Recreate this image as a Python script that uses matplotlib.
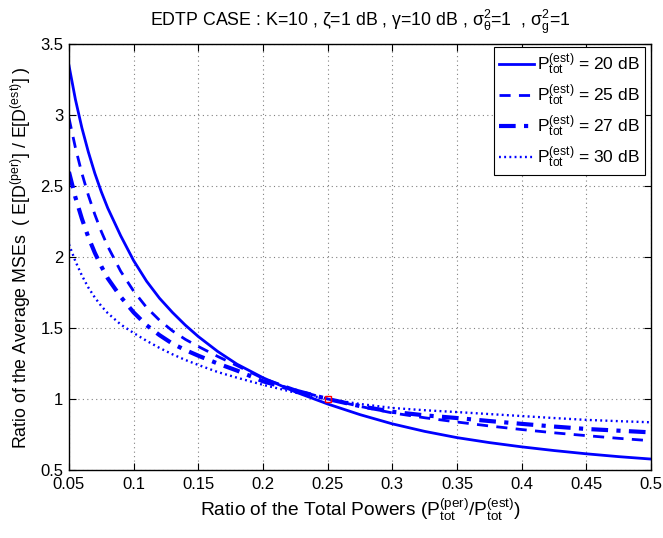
import matplotlib
matplotlib.use('Agg')
import matplotlib.pyplot as plt
import numpy as np

plt.rcParams['font.family'] = ['Liberation Sans', 'DejaVu Sans']
plt.rcParams['mathtext.fontset'] = 'custom'
plt.rcParams['mathtext.rm'] = 'Liberation Sans'
plt.rcParams['mathtext.it'] = 'Liberation Sans:italic'
plt.rcParams['mathtext.sf'] = 'Liberation Sans'

# power ratio P_tot^(per) / P_tot^(est)
ratio = [0.05, 0.055, 0.06, 0.065, 0.07, 0.075, 0.08, 0.09, 0.1, 0.11, 0.12, 0.13,
         0.14, 0.15, 0.165, 0.18, 0.2, 0.225, 0.25, 0.275, 0.3, 0.325, 0.35,
         0.375, 0.4, 0.425, 0.45, 0.475, 0.5]

# MSE ratio, one list per P_tot^(est)
mse_20db = [3.35, 3.11, 2.91, 2.74, 2.59, 2.46, 2.345, 2.15, 1.975, 1.83, 1.71, 1.61,
            1.52, 1.44, 1.335, 1.245, 1.15, 1.05, 0.965, 0.89, 0.825, 0.772, 0.728,
            0.693, 0.663, 0.637, 0.614, 0.594, 0.577]
mse_25db = [2.98, 2.77, 2.59, 2.435, 2.3, 2.18, 2.075, 1.9, 1.76, 1.645, 1.555, 1.48,
            1.42, 1.37, 1.3, 1.235, 1.145, 1.065, 1.0, 0.948, 0.902, 0.868, 0.838,
            0.81, 0.785, 0.762, 0.742, 0.723, 0.706]
mse_27db = [2.6, 2.42, 2.27, 2.14, 2.03, 1.935, 1.85, 1.72, 1.61, 1.52, 1.45, 1.39,
            1.345, 1.305, 1.25, 1.2, 1.125, 1.06, 1.0, 0.95, 0.91, 0.885, 0.866,
            0.845, 0.825, 0.806, 0.789, 0.777, 0.765]
mse_30db = [2.09, 1.97, 1.87, 1.785, 1.715, 1.655, 1.605, 1.525, 1.465, 1.41, 1.36, 1.315,
            1.275, 1.24, 1.19, 1.15, 1.1, 1.045, 1.0, 0.965, 0.937, 0.921, 0.908,
            0.894, 0.88, 0.866, 0.853, 0.844, 0.836]
labels = ['20', '25', '27', '30']

fig = plt.figure(figsize=(6.63, 5.38), dpi=100)
ax = fig.add_axes([0.104, 0.1264, 0.878, 0.7916])

blue = (0, 0, 1)
ax.plot(ratio, mse_20db, color=blue, lw=2.0, ls='-')
ax.plot(ratio, mse_25db, color=blue, lw=2.0, ls=(0, (4, 3)))
ax.plot(ratio, mse_27db, color=blue, lw=3.0, ls=(0, (4, 2, 1, 2)))
ax.plot(ratio, mse_30db, color=blue, lw=1.7, ls=(0, (0.8, 1.4)))

# reference point
ax.plot([0.25], [1.0], 's', ms=5, mfc='none', mec='red', mew=1.0, zorder=5)

handles = ax.get_lines()[:4]
leg = ax.legend(handles,
                [r'$\mathrm{P}_{\mathrm{tot}}^{(\mathrm{est})}$ = %s dB' % s for s in labels],
                loc='upper right', bbox_to_anchor=(0.99, 0.994), borderaxespad=0,
                fontsize=12.5, fancybox=False, framealpha=1,
                edgecolor='black', handlelength=2.0,
                handletextpad=0.2, labelspacing=0.3, borderpad=0.3)
leg.get_frame().set_linewidth(0.8)

ax.set_xlim(0.05, 0.5)
ax.set_ylim(0.5, 3.5)
ax.set_xticks(np.arange(0.05, 0.501, 0.05))
ax.set_xticklabels(['0.05', '0.1', '0.15', '0.2', '0.25', '0.3', '0.35', '0.4', '0.45', '0.5'])
ax.set_yticks(np.arange(0.5, 3.51, 0.5))
ax.set_yticklabels(['0.5', '1', '1.5', '2', '2.5', '3', '3.5'])
ax.tick_params(direction='in', top=True, right=True, length=5, labelsize=12, pad=5)
ax.tick_params(axis='y', pad=4)
ax.grid(True, ls=(0, (1, 3)), color='gray', lw=0.8)
for s in ax.spines.values():
    s.set_linewidth(1.0)

ax.set_xlabel(r'Ratio of the Total Powers ($\mathrm{P}_{\mathrm{tot}}^{(\mathrm{per})}$/$\mathrm{P}_{\mathrm{tot}}^{(\mathrm{est})}$)',
              fontsize=13.8, labelpad=3)
ax.set_ylabel(r'Ratio of the Average MSEs  ( E[D$^{(\mathrm{per})}$] / E[D$^{(\mathrm{est})}$] )',
              fontsize=12.8, labelpad=5)
ax.set_title(r'EDTP CASE : K=10 , ζ=1 dB , γ=10 dB , $\mathrm{\sigma}_{\mathrm{\theta}}^{2}$=1  , $\mathrm{\sigma}_{\mathrm{g}}^{2}$=1',
             fontsize=12.8, pad=13)

fig.savefig('out.png', dpi=100)
